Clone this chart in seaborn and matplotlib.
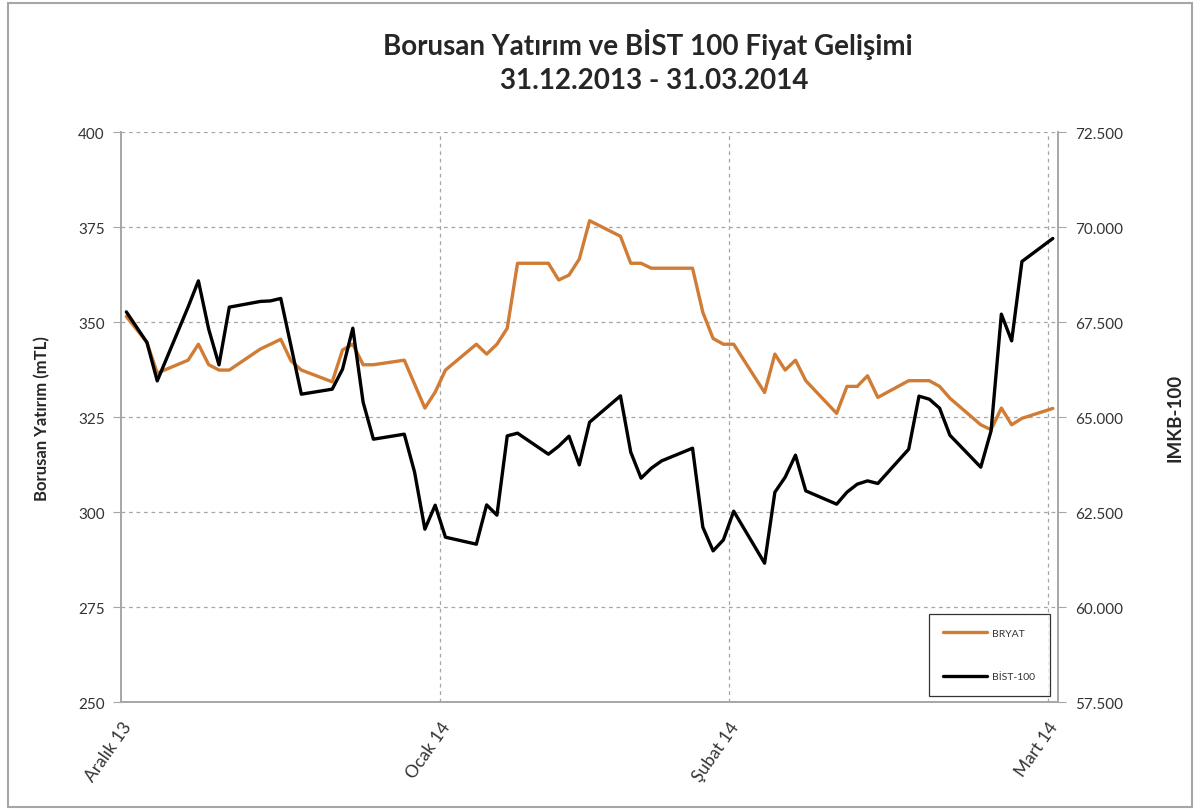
import pandas as pd
import numpy as np
import seaborn as sns
import matplotlib.pyplot as plt
from matplotlib.ticker import FuncFormatter
from matplotlib.lines import Line2D
from matplotlib.patches import Rectangle

dates = ["2013-12-31",
         "2014-01-02", "2014-01-03", "2014-01-06", "2014-01-07", "2014-01-08", "2014-01-09", "2014-01-10",
         "2014-01-13", "2014-01-14", "2014-01-15", "2014-01-16", "2014-01-17",
         "2014-01-20", "2014-01-21", "2014-01-22", "2014-01-23", "2014-01-24",
         "2014-01-27", "2014-01-28", "2014-01-29", "2014-01-30", "2014-01-31",
         "2014-02-03", "2014-02-04", "2014-02-05", "2014-02-06", "2014-02-07",
         "2014-02-10", "2014-02-11", "2014-02-12", "2014-02-13", "2014-02-14",
         "2014-02-17", "2014-02-18", "2014-02-19", "2014-02-20", "2014-02-21",
         "2014-02-24", "2014-02-25", "2014-02-26", "2014-02-27", "2014-02-28",
         "2014-03-03", "2014-03-04", "2014-03-05", "2014-03-06", "2014-03-07",
         "2014-03-10", "2014-03-11", "2014-03-12", "2014-03-13", "2014-03-14",
         "2014-03-17", "2014-03-18", "2014-03-19", "2014-03-20", "2014-03-21",
         "2014-03-24", "2014-03-25", "2014-03-26", "2014-03-27", "2014-03-28",
         "2014-03-31"]

bryat = [351.5,
         344.7, 336.6, 340.0, 344.2, 338.8, 337.4, 337.4,
         342.9, 344.2, 345.5, 339.8, 337.4,
         334.3, 342.7, 344.2, 338.8, 338.8,
         340.0, 333.7, 327.4, 331.6, 337.4,
         344.2, 341.6, 344.2, 348.4, 365.5,
         365.5, 361.1, 362.4, 366.6, 376.7,
         372.6, 365.5, 365.5, 364.2, 364.2,
         364.2, 352.6, 345.7, 344.2, 344.2,
         331.5, 341.6, 337.4, 340.0, 334.6,
         326.0, 333.1, 333.1, 335.9, 330.2,
         334.6, 334.6, 334.6, 333.1, 330.0,
         323.0, 321.7, 327.4, 323.0, 324.7,
         327.3]

bist100 = [67771,
           66966, 65955, 67900, 68587, 67316, 66376, 67895,
           68045, 68060, 68124, 66868, 65605,
           65737, 66263, 67342, 65395, 64421,
           64553, 63553, 62053, 62684, 61842,
           61658, 62692, 62421, 64508, 64579,
           64026, 64237, 64500, 63745, 64868,
           65561, 64079, 63395, 63658, 63850,
           64184, 62105, 61482, 61771, 62526,
           61158, 63026, 63421, 64000, 63061,
           62711, 63026, 63237, 63324, 63255,
           64158, 65553, 65474, 65237, 64526,
           63684, 64639, 67711, 67008, 69097,
           69703]

tick_dates = ["2013-12-31", "2014-01-31", "2014-02-28", "2014-03-31"]
tick_labels = ["Aralık 13", "Ocak 14", "Şubat 14", "Mart 14"]

# noktalar gunun ortasina (Excel tarih ekseni gibi)
df = pd.DataFrame({
    "tarih": pd.to_datetime(dates) + pd.Timedelta(hours=12),
    "BRYAT": bryat,
    "BİST-100": bist100,
})

sns.set_style("white")
plt.rcParams['font.family'] = ['Lato', 'DejaVu Sans']

orange = "#D07C35"
grid_kw = dict(color="#A6A6A6", linestyle=(0, (3, 3)), linewidth=0.9)

fig = plt.figure(figsize=(12, 8.12), dpi=100)
ax = fig.add_axes([0.101, 0.134, 0.781, 0.702])
ax2 = ax.twinx()

sns.lineplot(data=df, x="tarih", y="BRYAT", ax=ax, color=orange, linewidth=2.4, zorder=3)
sns.lineplot(data=df, x="tarih", y="BİST-100", ax=ax2, color="black", linewidth=2.4, zorder=3)

ax.set_xlim(pd.Timestamp("2013-12-31"), pd.Timestamp("2014-04-01 01:00"))
ax.set_ylim(250, 400)
ax.set_yticks(np.arange(250, 401, 25))
ax2.set_ylim(57500, 72500)
ax2.set_yticks(np.arange(57500, 72501, 2500))
ax2.yaxis.set_major_formatter(FuncFormatter(lambda v, p: f"{v:,.0f}".replace(",", ".")))

ax.set_xticks(pd.to_datetime(tick_dates))

for y in np.arange(275, 401, 25):
    ax.axhline(y, zorder=1, **grid_kw)
for d in pd.to_datetime(tick_dates[1:]):
    ax.axvline(d, zorder=1, **grid_kw)

for a in (ax, ax2):
    for s in ["left", "right", "bottom"]:
        a.spines[s].set_color("#A6A6A6")
        a.spines[s].set_linewidth(1.2)
    a.spines["top"].set_visible(False)
    a.tick_params(axis="both", direction="out", length=6, color="#A6A6A6",
                  labelsize=11, labelcolor="#333333", pad=6)

ax.set_xticklabels(tick_labels, rotation=55, ha="right", rotation_mode="anchor",
                   fontsize=12.5, color="#333333")

ax.set_xlabel("")
ax.set_ylabel("Borusan Yatırım (mTL)", fontsize=12, fontweight="bold", labelpad=20)
ax2.set_ylabel("IMKB-100", fontsize=13.5, fontweight="bold", labelpad=31)

handles = [Line2D([], [], color=orange, linewidth=2.4), Line2D([], [], color="black", linewidth=2.4)]
leg = ax2.legend(handles, ["BRYAT", "BİST-100"], loc="lower right",
                 bbox_to_anchor=(0.991, 0.011), fontsize=7.5, frameon=True,
                 fancybox=False, handlelength=4.2, labelspacing=3.3,
                 borderpad=1.4, handletextpad=0.5, borderaxespad=0)
leg.get_frame().set_edgecolor("black")
leg.get_frame().set_linewidth(0.9)
for t in leg.get_texts():
    t.set_color("#333333")

fig.text(0.54, 0.945, "Borusan Yatırım ve BİST 100 Fiyat Gelişimi", ha="center",
         va="center", fontsize=20, fontweight="bold")
fig.text(0.545, 0.9, "31.12.2013 - 31.03.2014", ha="center", va="center",
         fontsize=20, fontweight="bold")

fig.add_artist(Rectangle((0.007, 0.005), 0.986, 0.99, transform=fig.transFigure,
                         fill=False, edgecolor="#A6A6A6", linewidth=1.5))

fig.savefig("out.png", dpi=100)
